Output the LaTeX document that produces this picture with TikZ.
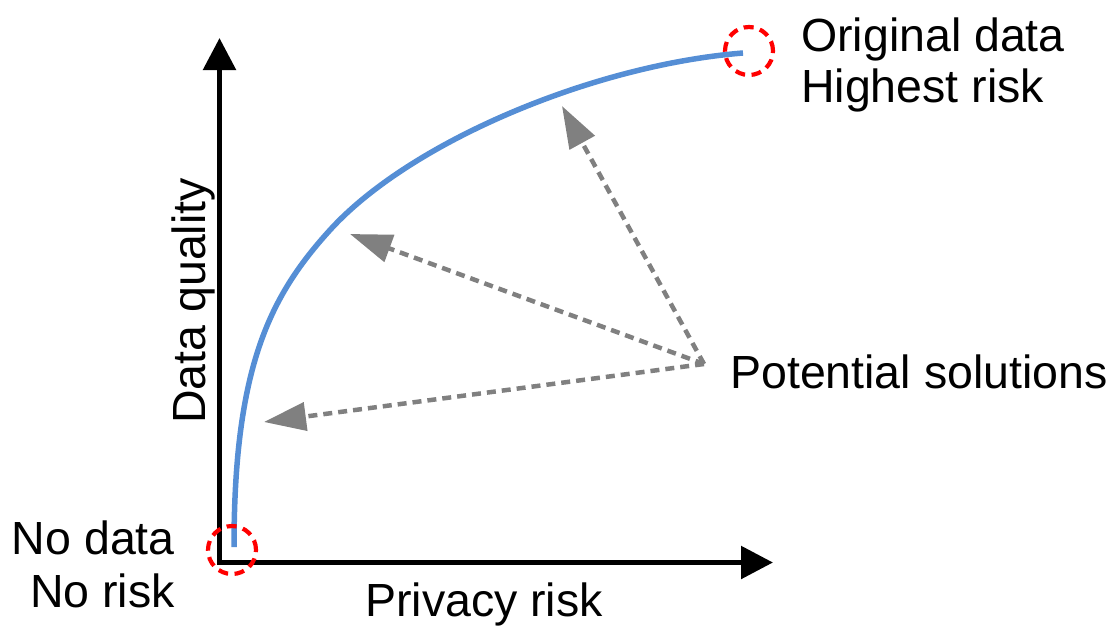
\documentclass[tikz,border=0pt]{standalone}
\usepackage{fontspec}
\setmainfont{Liberation Sans}
\usetikzlibrary{arrows.meta}
\definecolor{curveblue}{RGB}{85,142,213}
\definecolor{solgray}{RGB}{128,128,128}
\begin{document}
\begin{tikzpicture}[x=1pt,y=-1pt,
  axisline/.style={line width=5.5pt, black, {Triangle[length=32pt,width=32pt]}-{Triangle[length=32pt,width=32pt]}},
  curveline/.style={line width=5.5pt, curveblue},
  solarrow/.style={line width=4.5pt, solgray, dash pattern=on 9pt off 6pt, -{Triangle[length=42pt,width=28pt]}},
  endcircle/.style={circle, draw=red, line width=4.2pt, dash pattern=on 10pt off 6.5pt, minimum size=48pt, inner sep=0pt},
  lbl/.style={font=\fontsize{46.5}{51}\selectfont, inner sep=0pt}
]
\useasboundingbox (0,0) rectangle (1115,626);
% axes
\coordinate (O) at (219.5,562.5);
\coordinate (ytop) at (219.5,38);
\coordinate (xend) at (773,562.5);
\draw[axisline] (ytop) -- (O) -- (xend);
% curve
\coordinate (c0) at (234,547);
\coordinate (cm) at (330,230);
\coordinate (c1) at (743,53);
\draw[curveline] (c0) .. controls (234,367) and (270,296) .. (cm)
  .. controls (410,142) and (593,65) .. (c1);
% end circles
\node[endcircle] (lowc) at (232,550) {};
\node[endcircle] (highc) at (749,51) {};
% solution arrows
\coordinate (src) at (704,364);
\coordinate (t1) at (264,422);
\coordinate (t2) at (350,234);
\coordinate (t3) at (562,106);
\draw[solarrow] (src) -- (t1);
\draw[solarrow] (src) -- (t2);
\draw[solarrow] (src) -- (t3);
% labels
\node[lbl, anchor=north west, align=left] (orig) at (801,18) {Original data\\Highest risk};
\node[lbl, anchor=north east, align=right, font=\fontsize{46.5}{53}\selectfont] (nodata) at (175,521) {No data\\No risk};
\node[lbl, anchor=base west] (pot) at (730,388) {Potential solutions};
\node[lbl, anchor=base west] (priv) at (365,616) {Privacy risk};
\node[lbl, anchor=base, rotate=90] (dq) at (205,301) {Data quality};
\end{tikzpicture}
\end{document}
